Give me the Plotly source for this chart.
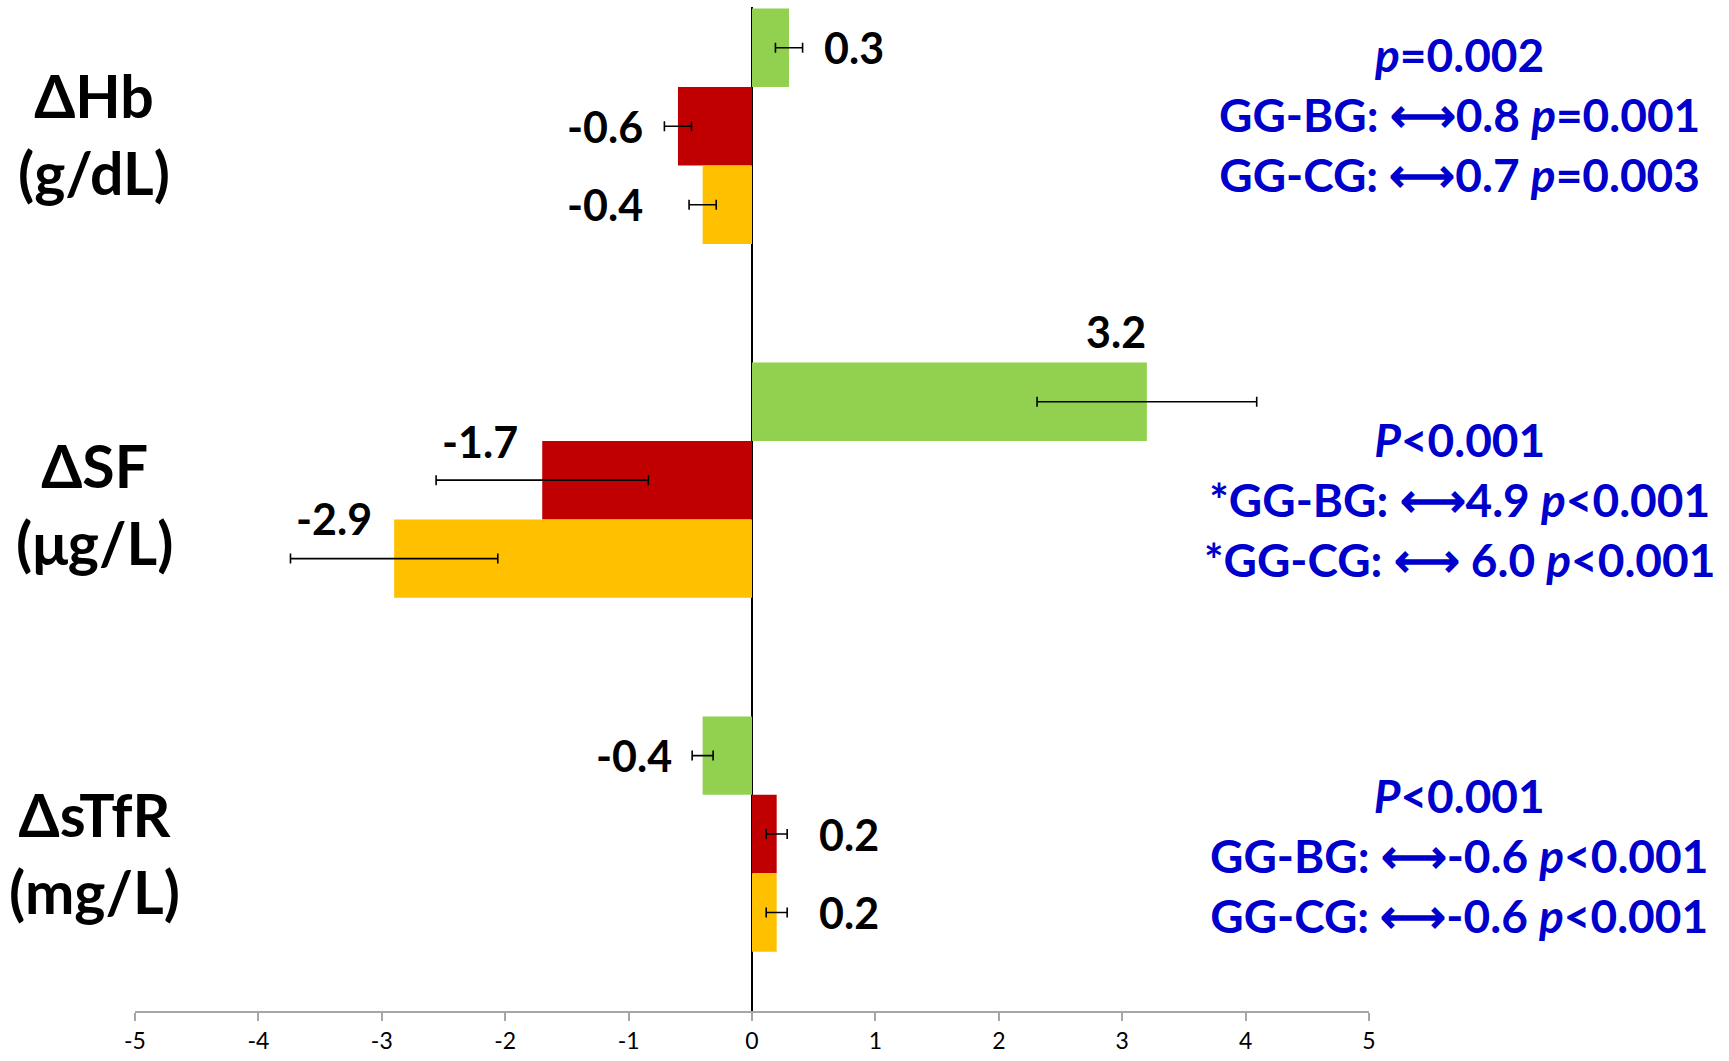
import plotly.graph_objects as go

# ---------------- data ----------------
categories = ["ΔHb", "ΔSF", "ΔsTfR"]
units = ["(g/dL)", "(μg/L)", "(mg/L)"]
series_names = ["GG", "BG", "CG"]
gg_values = [0.3, 3.2, -0.4]
bg_values = [-0.6, -1.7, 0.2]
cg_values = [-0.4, -2.9, 0.2]
gg_errors = [0.11, 0.89, 0.085]
bg_errors = [0.11, 0.86, 0.085]
cg_errors = [0.11, 0.84, 0.085]
x_ticks = [-5, -4, -3, -2, -1, 0, 1, 2, 3, 4, 5]
stats_text = [
    "<i>p</i>=0.002<br>GG-BG: ⟷0.8 <i>p</i>=0.001<br>GG-CG: ⟷0.7 <i>p</i>=0.003",
    "<i>P</i>&lt;0.001<br>*GG-BG: ⟷4.9 <i>p</i>&lt;0.001<br>*GG-CG: ⟷ 6.0 <i>p</i>&lt;0.001",
    "<i>P</i>&lt;0.001<br>GG-BG: ⟷-0.6 <i>p</i>&lt;0.001<br>GG-CG: ⟷-0.6 <i>p</i>&lt;0.001",
]

# ---------------- style ----------------
colors = ["#92D050", "#C00000", "#FFC000"]
FONT = "Lato, 'Open Sans', sans-serif"
W, H = 1729, 1061
ML, MR, MT, MB = 135, 360, 7, 47
BARGAP = 0.335
Y_RANGE = [2.5, -0.337]

# label placement: (anchor, dx px, dy px) per series, per category
label_place = [
    [("left", 19, 0), ("center", -31, 70), ("right", -18, 0)],
    [("right", -19, 0), ("center", -62, 39), ("left", 30, 0)],
    [("right", -44, 0), ("center", -60, 40), ("left", 30, 0)],
]
left_label_y_px = [134, 505, 856]
stats_y_px = [115, 501, 858]

values = [gg_values, bg_values, cg_values]
errors = [gg_errors, bg_errors, cg_errors]
ypos = list(range(len(categories)))

fig = go.Figure()
for k in range(3):
    fig.add_trace(go.Bar(
        y=ypos, x=values[k], orientation="h", name=series_names[k],
        marker=dict(color=colors[k], line=dict(width=0)),
        error_x=dict(type="data", array=errors[k], visible=True,
                     color="black", thickness=1.6, width=5),
        showlegend=False,
    ))

annotations = []
bw = (1 - BARGAP) / 3
for k in range(3):
    for i in range(len(categories)):
        v, e = values[k][i], errors[k][i]
        anchor, dx, dy = label_place[k][i]
        if anchor == "left":
            x = v + e
        elif anchor == "right":
            x = v - e
        else:
            x = v
        annotations.append(dict(
            x=x, y=i + (k - 1) * bw, xref="x", yref="y",
            text=f"{v:.1f}", showarrow=False,
            xanchor=anchor, yanchor="middle", xshift=dx, yshift=dy,
            font=dict(family=FONT, size=43, color="black", weight="bold"),
        ))

plot_h = H - MT - MB
plot_w = W - ML - MR


def py(px):
    return 1 - (px - MT) / plot_h


for i in range(len(categories)):
    annotations.append(dict(
        x=(94 - ML) / plot_w, y=py(left_label_y_px[i]), xref="paper", yref="paper",
        text=f"{categories[i]}<br>{units[i]}", showarrow=False,
        xanchor="center", yanchor="middle", align="center",
        font=dict(family=FONT, size=59, color="black", weight="bold"),
    ))
    annotations.append(dict(
        x=(1459 - ML) / plot_w, y=py(stats_y_px[i]), xref="paper", yref="paper",
        text=stats_text[i], showarrow=False,
        xanchor="center", yanchor="middle", align="center",
        font=dict(family=FONT, size=46, color="#0000CC", weight="bold"),
    ))

fig.update_layout(
    width=W, height=H,
    margin=dict(l=ML, r=MR, t=MT, b=MB, pad=0),
    paper_bgcolor="white", plot_bgcolor="white",
    barmode="group", bargap=BARGAP, bargroupgap=0,
    annotations=annotations,
    xaxis=dict(
        range=[-5, 5], tickvals=x_ticks, ticktext=[str(t) for t in x_ticks],
        showgrid=False, zeroline=True, zerolinecolor="black", zerolinewidth=2,
        showline=True, linecolor="#A6A6A6", linewidth=2,
        ticks="outside", ticklen=8, tickcolor="#A6A6A6", tickwidth=1.5,
        tickfont=dict(family=FONT, size=23, color="black"),
        mirror=False, fixedrange=True,
    ),
    yaxis=dict(
        range=Y_RANGE, showticklabels=False, showgrid=False, zeroline=False,
        showline=False, ticks="", fixedrange=True,
    ),
)

fig.write_html(
    "out.html",
    config={"displayModeBar": False},
    post_script="document.body.style.margin='0';document.body.style.overflow='hidden';",
)
